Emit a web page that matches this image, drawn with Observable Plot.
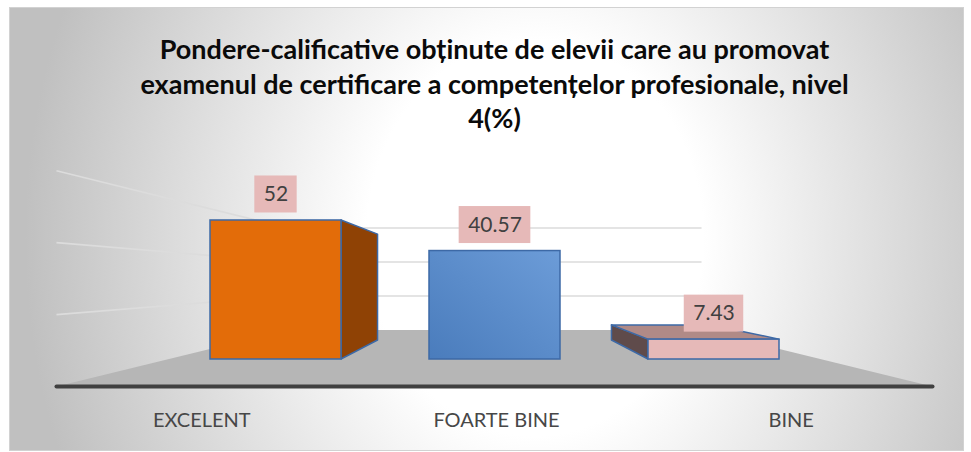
<!DOCTYPE html>
<html>
<head>
<meta charset="utf-8">
<script src="https://cdn.jsdelivr.net/npm/d3@7"></script>
<script src="https://cdn.jsdelivr.net/npm/@observablehq/plot@0.6"></script>
<style>
  html, body { margin: 0; padding: 0; background: #ffffff; }
  #wrap { position: relative; width: 971px; height: 452px; overflow: hidden; }
  #bg {
    position: absolute; left: 9px; top: 7px; width: 953px; height: 442px;
    border: 1px solid #d2d2d2;
    background: radial-gradient(ellipse 510px 600px at 525px 230px, #ffffff 0%, #ffffff 33%, #c0c0c0 100%);
  }
  #chart { position: absolute; left: 0; top: 0; }
</style>
</head>
<body>
<div id="wrap"><div id="bg"></div><div id="chart"></div></div>
<script>
// ---- data ----
const titleLines = [
  "Pondere-calificative obținute de elevii care au promovat",
  "examenul de certificare a competențelor profesionale, nivel",
  "4(%)"
];
const categories = ["EXCELENT", "FOARTE BINE", "BINE"];
const values = [52, 40.57, 7.43];
const valueLabels = ["52", "40.57", "7.43"];
const gridTicks = [20, 40, 60];

// ---- styles ----
const frontColors = ["#e36c09", "url(#blueFront)", "#e6b9b8"];
const sideColors  = ["#8f4205", "#3d6599", "#5f4b4b"];
const topColors   = ["#b9560a", "#6b9bd6", "#b08a87"];
const outline = "#3d69a6";
const LABEL_FONT = "Lato, 'Open Sans', sans-serif";

// perspective (pixel layout constants)
const VY = 279.3;          // vanishing height
const R_WALL = 0.636;      // back wall depth ratio
const R_BARBACK = 0.762;   // back of bars
const R_FRONT = 1.3457;    // front edge of floor
const WALL_HALF = 325.5;   // half width of floor in the bar plane

const data = categories.map((c, i) => ({category: c, value: values[i], label: valueLabels[i], i}));

function bandwidthOf(x) {
  let bw = typeof x.bandwidth === "function" ? x.bandwidth() : x.bandwidth;
  if (!(bw > 0)) bw = (x(categories[1]) - x(categories[0])) * 0.6;
  return bw;
}

function scene(index, scales) {
  const x = scales.x, y = scales.y;
  const bw = bandwidthOf(x);
  const cx = (x(categories[0]) + x(categories[categories.length - 1]) + bw) / 2;
  const P = (px, py, r) => [cx + (px - cx) * r, VY + (py - VY) * r];
  const g = d3.create("svg:g");
  const defs = g.append("defs");
  const lg = defs.append("linearGradient").attr("id", "blueFront")
    .attr("x1", 0).attr("y1", 1).attr("x2", 1).attr("y2", 0);
  lg.append("stop").attr("offset", "0%").attr("stop-color", "#4a7cbc");
  lg.append("stop").attr("offset", "100%").attr("stop-color", "#6c9cd8");

  const y0 = y(0);
  const poly = (pts) => pts.map(p => p.join(",")).join(" ");
  // floor
  g.append("polygon")
    .attr("points", poly([P(cx - WALL_HALF, y0, R_WALL), P(cx + WALL_HALF, y0, R_WALL),
                          P(cx + WALL_HALF, y0, R_FRONT), P(cx - WALL_HALF, y0, R_FRONT)]))
    .attr("fill", "#b6b6b6");
  // gridlines
  for (const t of gridTicks) {
    const a = P(cx - WALL_HALF, y(t), R_WALL), b = P(cx + WALL_HALF, y(t), R_WALL), c = P(cx - WALL_HALF, y(t), R_FRONT);
    g.append("polyline").attr("points", poly([c, a, b]))
      .attr("fill", "none").attr("stroke", "#dcdcdc").attr("stroke-width", 1.6);
  }
  // front floor edge
  const fl = P(cx - WALL_HALF, y0, R_FRONT), fr = P(cx + WALL_HALF, y0, R_FRONT);
  g.append("line").attr("x1", fl[0]).attr("y1", fl[1]).attr("x2", fr[0]).attr("y2", fr[1])
    .attr("stroke", "#404040").attr("stroke-width", 4).attr("stroke-linecap", "round");
  // bar sides / tops
  data.forEach((d) => {
    const x0 = x(d.category), x1 = x0 + bw, yt = y(d.value), yb = y0;
    const fc = (px, py) => [px, py];
    const bk = (px, py) => P(px, py, R_BARBACK);
    const faces = [];
    if (x1 < cx) faces.push({pts: [fc(x1, yt), bk(x1, yt), bk(x1, yb), fc(x1, yb)], fill: sideColors[d.i]});
    if (x0 > cx) faces.push({pts: [fc(x0, yt), bk(x0, yt), bk(x0, yb), fc(x0, yb)], fill: sideColors[d.i]});
    if (yt > VY) faces.push({pts: [fc(x0, yt), fc(x1, yt), bk(x1, yt), bk(x0, yt)], fill: topColors[d.i]});
    for (const f of faces) {
      g.append("polygon").attr("points", poly(f.pts)).attr("fill", f.fill)
        .attr("stroke", outline).attr("stroke-width", 1.5).attr("stroke-linejoin", "round");
    }
  });
  // category labels on the front edge
  data.forEach((d) => {
    const p = P(x(d.category) + bw / 2, y0, R_FRONT);
    g.append("text").attr("x", p[0] + 2).attr("y", p[1] + 40)
      .attr("text-anchor", "middle").attr("fill", "#474747")
      .attr("font-family", LABEL_FONT).attr("font-size", 20)
      .text(d.category);
  });
  return g.node();
}

const measureCtx = document.createElement("canvas").getContext("2d");
function labelBoxes(index, scales) {
  const x = scales.x, y = scales.y;
  const bw = bandwidthOf(x);
  const g = d3.create("svg:g");
  measureCtx.font = "21px Lato";
  data.forEach((d) => {
    const w = measureCtx.measureText(d.label).width + 18;
    const h = 37;
    const xc = x(d.category) + bw / 2, yc = y(d.value) - 26;
    g.append("rect").attr("x", xc - w / 2).attr("y", yc - h / 2)
      .attr("width", w).attr("height", h).attr("fill", "#e6b9b8");
  });
  return g.node();
}

const chart = Plot.plot({
  width: 971,
  height: 452,
  margin: 0,
  style: {background: "transparent", overflow: "visible"},
  x: {type: "band", domain: categories, range: [122.4, 867.4], padding: 0.4, axis: null},
  y: {domain: [0, 60], range: [359, 198.6], axis: null},
  color: {type: "ordinal", domain: categories, range: frontColors},
  marks: [
    scene,
    Plot.barY(data, {x: "category", y: "value", fill: "category", stroke: outline, strokeWidth: 1.5}),
    labelBoxes,
    Plot.text(data, {x: "category", y: "value", text: "label", dy: -26, fill: "#404040",
      fontSize: 21, fontFamily: LABEL_FONT}),
    Plot.text([titleLines.join("\n")], {frameAnchor: "top", dx: 8.5, dy: 34, lineAnchor: "top",
      lineHeight: 1.28, fontSize: 27, fontWeight: "bold", fontFamily: LABEL_FONT, fill: "#0a0a0a"})
  ]
});
document.getElementById("chart").appendChild(chart);
</script>
</body>
</html>
